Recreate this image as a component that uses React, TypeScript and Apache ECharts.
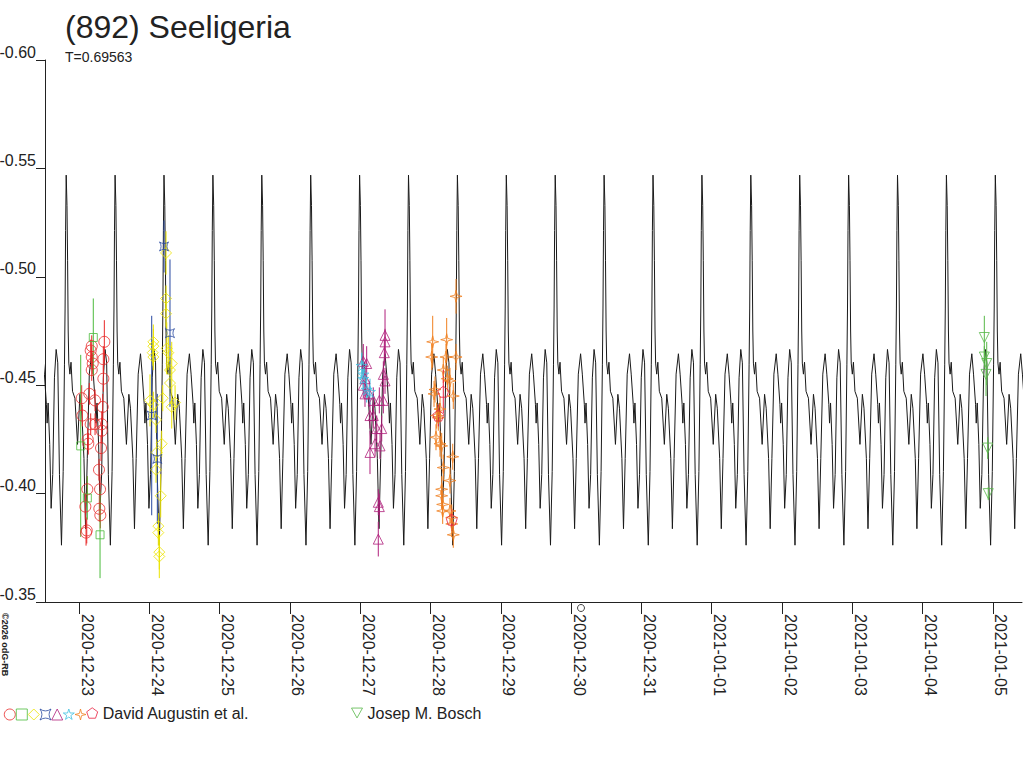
import React, { useEffect, useRef } from "react";
import * as echarts from "echarts";

// x values are days counted from 2020-12-23 00:00
const DAY_LABELS = [
  "2020-12-23", "2020-12-24", "2020-12-25", "2020-12-26", "2020-12-27",
  "2020-12-28", "2020-12-29", "2020-12-30", "2020-12-31", "2021-01-01",
  "2021-01-02", "2021-01-03", "2021-01-04", "2021-01-05",
];
const DAY_TICKS = DAY_LABELS.map((_, i) => i);
const X_MIN = -0.484;
const X_MAX = 13.414;

// model light curve: one period, repeated with period T
const PERIOD = 0.69563;
const MAX_EPOCH = 8.165;
const CURVE_PHASE = [
  0, 0.0164, 0.0287, 0.0411, 0.0534, 0.076, 0.0986, 0.1294, 0.1786, 0.232,
  0.2813, 0.3142, 0.3634, 0.3963, 0.4312, 0.4723, 0.5195, 0.5544, 0.5955,
  0.6099, 0.6304, 0.6632, 0.692, 0.7248, 0.7598, 0.7947, 0.8275, 0.8624,
  0.9035, 0.9384, 0.9651, 0.9774, 0.9877,
];
const CURVE_MAG = [
  -0.5469, -0.5329, -0.5074, -0.475, -0.4602, -0.4551, -0.4606, -0.4472,
  -0.444, -0.4227, -0.4458, -0.4394, -0.4162, -0.3838, -0.4162, -0.4551,
  -0.4645, -0.4551, -0.4412, -0.4325, -0.4418, -0.4227, -0.3932, -0.4088,
  -0.4534, -0.4665, -0.4603, -0.4088, -0.3762, -0.4102, -0.4597, -0.4856,
  -0.5213,
];

// observations: [day, magnitude, error]
const AUG_CIRCLE = [
  [0.36, -0.47, 0.01], [0.181, -0.468, 0.005], [0.166, -0.466, 0.005],
  [0.181, -0.463, 0.005], [0.195, -0.46, 0.005], [0.181, -0.457, 0.005],
  [0.346, -0.462, 0.006], [0.346, -0.453, 0.006], [0.038, -0.444, 0.006],
  [0.147, -0.446, 0.005], [0.228, -0.443, 0.005], [0.337, -0.44, 0.006],
  [0.047, -0.436, 0.005], [0.166, -0.432, 0.005], [0.228, -0.432, 0.005],
  [0.323, -0.432, 0.006], [0.323, -0.429, 0.006], [0.124, -0.425, 0.005],
  [0.132, -0.423, 0.005], [0.313, -0.421, 0.006], [0.284, -0.411, 0.005],
  [0.118, -0.402, 0.006], [0.299, -0.402, 0.006], [0.09, -0.394, 0.006],
  [0.289, -0.393, 0.006], [0.303, -0.39, 0.006], [0.11, -0.383, 0.006],
  [0.1, -0.382, 0.006],
];
const AUG_SQUARE = [
  [0.203, -0.472, 0.018], [0.024, -0.422, 0.042], [0.118, -0.398, 0.01],
  [0.299, -0.381, 0.02],
];
const AUG_DIAMOND = [
  [1.057, -0.47, 0.008], [1.057, -0.468, 0.008], [1.048, -0.465, 0.006],
  [1.057, -0.463, 0.006], [1.238, -0.511, 0.01], [1.238, -0.49, 0.006],
  [1.238, -0.483, 0.006], [1.248, -0.467, 0.012], [1.27, -0.465, 0.008],
  [1.319, -0.46, 0.01], [1.294, -0.457, 0.006], [1.294, -0.451, 0.006],
  [1.366, -0.442, 0.008], [1.319, -0.44, 0.01], [1.01, -0.443, 0.012],
  [1.057, -0.441, 0.006], [1.191, -0.444, 0.006], [1.095, -0.434, 0.006],
  [1.176, -0.423, 0.006], [1.105, -0.419, 0.006], [1.095, -0.411, 0.006],
  [1.162, -0.399, 0.01], [1.128, -0.385, 0.006], [1.128, -0.382, 0.006],
  [1.142, -0.373, 0.008], [1.142, -0.371, 0.01],
];
const AUG_CROSS = [
  [1.209, -0.514, 0.012], [1.294, -0.474, 0.034], [1.034, -0.436, 0.046],
  [1.114, -0.416, 0.03],
];
const AUG_TRIANGLE = [
  [4.353, -0.473, 0.012], [4.353, -0.47, 0.006], [4.343, -0.465, 0.006],
  [4.044, -0.461, 0.008], [4.092, -0.46, 0.008], [4.329, -0.455, 0.006],
  [4.353, -0.452, 0.006], [4.068, -0.453, 0.008], [4.044, -0.45, 0.006],
  [4.068, -0.446, 0.006], [4.129, -0.446, 0.006], [4.186, -0.443, 0.006],
  [4.272, -0.443, 0.006], [4.329, -0.443, 0.006], [4.139, -0.436, 0.006],
  [4.186, -0.436, 0.006], [4.235, -0.43, 0.006], [4.306, -0.43, 0.006],
  [4.211, -0.423, 0.006], [4.282, -0.422, 0.006], [4.139, -0.419, 0.01],
  [4.257, -0.396, 0.006], [4.272, -0.394, 0.006], [4.257, -0.379, 0.008],
];
const AUG_STAR = [
  [4.021, -0.459, 0.006], [4.044, -0.455, 0.006], [4.044, -0.453, 0.006],
  [4.092, -0.448, 0.006], [4.139, -0.447, 0.006],
];
const AUG_SPARK = [
  [5.363, -0.491, 0.008], [5.031, -0.47, 0.012], [5.23, -0.471, 0.01],
  [5.017, -0.463, 0.006], [5.22, -0.463, 0.006], [5.363, -0.463, 0.006],
  [5.182, -0.457, 0.006], [5.239, -0.453, 0.006], [5.277, -0.452, 0.006],
  [5.064, -0.448, 0.006], [5.05, -0.446, 0.006], [5.324, -0.445, 0.006],
  [5.135, -0.439, 0.006], [5.088, -0.436, 0.006], [5.111, -0.435, 0.006],
  [5.078, -0.426, 0.006], [5.135, -0.423, 0.006], [5.159, -0.422, 0.006],
  [5.316, -0.417, 0.006], [5.277, -0.406, 0.006], [5.182, -0.412, 0.006],
  [5.159, -0.402, 0.006], [5.159, -0.399, 0.006], [5.173, -0.395, 0.006],
  [5.173, -0.392, 0.006], [5.277, -0.392, 0.006], [5.302, -0.389, 0.006],
  [5.302, -0.386, 0.006], [5.324, -0.381, 0.006],
];
const AUG_PENTAGON = [
  [5.182, -0.447, 0.01], [5.111, -0.436, 0.005], [5.302, -0.388, 0.005],
];
const BOSCH = [
  [12.878, -0.472, 0.01], [12.878, -0.463, 0.005], [12.912, -0.46, 0.01],
  [12.902, -0.455, 0.01], [12.926, -0.421, 0.005], [12.934, -0.4, 0.003],
];

const GROUPS = [
  { name: "c1", data: AUG_CIRCLE, color: "#e82828", symbol: "circle", size: 11, legendLeft: 3.8, label: "" },
  { name: "c2", data: AUG_SQUARE, color: "#4cbb3c", symbol: "rect", size: 8, legendLeft: 15.8, label: "" },
  { name: "c3", data: AUG_DIAMOND, color: "#ece400", symbol: "diamond", size: 11, legendLeft: 27.8, label: "" },
  { name: "c4", data: AUG_CROSS, color: "#2848a0", symbol: "path://M0,0 Q50,35 100,0 Q65,50 100,100 Q50,65 0,100 Q35,50 0,0 Z", size: 9, legendLeft: 39.5, label: "" },
  { name: "c5", data: AUG_TRIANGLE, color: "#b0207c", symbol: "triangle", size: 10, legendLeft: 51.2, label: "" },
  { name: "c6", data: AUG_STAR, color: "#40c0e0", symbol: "path://M50,0 L61,35 L98,35 L68,57 L79,91 L50,70 L21,91 L32,57 L2,35 L39,35 Z", size: 11, legendLeft: 62.8, label: "" },
  { name: "c7", data: AUG_SPARK, color: "#f08020", symbol: "path://M50,0 L60,40 L100,50 L60,60 L50,100 L40,60 L0,50 L40,40 Z", size: 12, legendLeft: 74.5, label: "" },
  { name: "c8", data: AUG_PENTAGON, color: "#e82040", symbol: "path://M50,0 L98,35 L79,91 L21,91 L2,35 Z", size: 11, legendLeft: 86.2, label: "David Augustin et al." },
  { name: "b1", data: BOSCH, color: "#58b848", symbol: "path://M0,0 L100,0 L50,90 Z", size: 10, legendLeft: 351, label: "Josep M. Bosch" },
];

const FONT = "'Liberation Sans', Arial, sans-serif";
const TEXT = "#222222";

function buildCurve() {
  const pts: number[][] = [];
  for (let k = -15; k <= 9; k++) {
    for (let i = 0; i < CURVE_PHASE.length; i++) {
      const t = MAX_EPOCH + (k + CURVE_PHASE[i]) * PERIOD;
      if (t > X_MIN - 0.2 && t < X_MAX + 0.2) pts.push([t, CURVE_MAG[i]]);
    }
  }
  return pts;
}

export default function App() {
  const ref = useRef<HTMLDivElement>(null);
  useEffect(() => {
    if (!ref.current) return;
    const chart = echarts.init(ref.current, null, { renderer: "svg" });
    const series: any[] = [
      {
        type: "line",
        name: "model",
        data: buildCurve(),
        symbol: "none",
        showSymbol: false,
        lineStyle: { color: "#1a1a1a", width: 1 },
        silent: true,
        z: 1,
      },
    ];
    GROUPS.forEach((g) => {
      series.push({
        type: "custom",
        name: g.name + "-err",
        data: g.data,
        silent: true,
        z: 2,
        renderItem: (params: any, api: any) => {
          const x = api.value(0);
          const v = api.value(1);
          const e = api.value(2);
          const p1 = api.coord([x, v - e]);
          const p2 = api.coord([x, v + e]);
          return {
            type: "line",
            shape: { x1: p1[0], y1: p1[1], x2: p2[0], y2: p2[1] },
            style: { stroke: g.color, lineWidth: 1 },
          };
        },
      });
      series.push({
        type: "scatter",
        name: g.name,
        data: g.data.map((p) => [p[0], p[1]]),
        symbol: g.symbol,
        symbolSize: g.size,
        itemStyle: { color: "transparent", borderColor: g.color, borderWidth: 1 },
        silent: true,
        z: 3,
      });
    });
    const legends = GROUPS.map((g) => ({
      data: [{ name: g.name, icon: g.symbol }],
      left: g.legendLeft,
      top: g.label ? 705 : 708.5,
      padding: 0,
      itemWidth: 11,
      itemHeight: 11,
      itemGap: 0,
      selectedMode: false,
      formatter: () => g.label,
      textStyle: { fontSize: 16, color: TEXT, fontFamily: FONT },
      itemStyle: { color: "transparent", borderColor: g.color, borderWidth: 1 },
    }));
    chart.setOption({
      animation: false,
      backgroundColor: "#ffffff",
      textStyle: { fontFamily: FONT },
      title: [
        {
          text: "(892) Seeligeria",
          left: 65,
          top: 11,
          padding: 0,
          textStyle: { fontSize: 32, fontWeight: "normal", color: TEXT, fontFamily: FONT },
        },
        {
          text: "T=0.69563",
          left: 65,
          top: 50,
          padding: 0,
          textStyle: { fontSize: 14, fontWeight: "normal", color: TEXT, fontFamily: FONT },
        },
      ],
      legend: legends,
      grid: { left: 45, right: 2, top: 60, bottom: 166, containLabel: false, outerBoundsMode: "none" },
      xAxis: {
        type: "value",
        min: X_MIN,
        max: X_MAX,
        axisLine: { show: true, onZero: false, lineStyle: { color: TEXT, width: 1 } },
        axisTick: { show: true, customValues: DAY_TICKS, length: 12, lineStyle: { color: TEXT } },
        axisLabel: {
          customValues: DAY_TICKS,
          rotate: -90,
          verticalAlign: "bottom",
          margin: 12,
          fontSize: 16,
          color: TEXT,
          fontFamily: FONT,
          formatter: (v: number) => DAY_LABELS[Math.round(v)] ?? "",
        },
        splitLine: { show: false },
      },
      yAxis: {
        type: "value",
        inverse: true,
        min: -0.6,
        max: -0.35,
        interval: 0.05,
        axisLine: { show: true, onZero: false, lineStyle: { color: TEXT, width: 1 } },
        axisTick: { show: true, length: 9, lineStyle: { color: TEXT } },
        axisLabel: {
          verticalAlign: "bottom",
          margin: 9,
          fontSize: 16,
          color: TEXT,
          fontFamily: FONT,
          formatter: (v: number) => v.toFixed(2),
        },
        splitLine: { show: false },
      },
      graphic: [
        {
          type: "text",
          x: 0,
          y: 613,
          rotation: -Math.PI / 2,
          style: { text: "©2026 odG-RB", fontSize: 9, fontWeight: "bold", fill: TEXT, fontFamily: FONT, textAlign: "left", textVerticalAlign: "bottom" },
        },
        {
          type: "circle",
          shape: { cx: 581, cy: 608, r: 3.5 },
          style: { fill: "none", stroke: "#444444", lineWidth: 1 },
        },
      ],
      series,
    });
    return () => chart.dispose();
  }, []);
  return (
    <div
      ref={ref}
      style={{ position: "absolute", left: 0, top: 0, width: 1024, height: 768, background: "#fff" }}
    />
  );
}
